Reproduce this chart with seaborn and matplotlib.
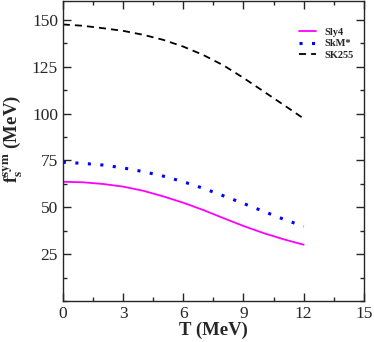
import numpy as np
import pandas as pd
import matplotlib
matplotlib.use("Agg")
import matplotlib.pyplot as plt
import seaborn as sns
from matplotlib.ticker import MultipleLocator

# values
T = [0, 1, 2, 3, 4, 5, 6, 7, 8, 9, 10, 11, 12]
sly4 = [63.6, 63.3, 62.4, 61.0, 58.8, 55.8, 52.4, 48.5, 44.2, 40.0, 36.2, 32.9, 30.0]
skm = [74.0, 73.4, 72.5, 71.0, 69.0, 66.6, 63.6, 60.1, 56.1, 52.0, 47.8, 43.6, 39.8]
sk255 = [147.5, 146.8, 145.5, 144.1, 142.0, 139.3, 135.7, 131.2, 125.7, 119.0, 111.8, 104.6, 97.3]

df = pd.DataFrame({
    "T": T * 3,
    "f": sly4 + skm + sk255,
    "model": ["Sly4"] * len(T) + ["SkM*"] * len(T) + ["SK255"] * len(T),
})

sns.set_style("ticks")
plt.rcParams["font.family"] = ["Liberation Serif", "DejaVu Serif"]
plt.rcParams["mathtext.fontset"] = "stix"

fig = plt.figure(figsize=(3.74, 3.42), dpi=100)
ax = fig.add_axes([0.168, 0.12, 0.805, 0.877])

palette = {"Sly4": "#ff00ff", "SkM*": "#0000ff", "SK255": "#000000"}
sns.lineplot(data=df, x="T", y="f", hue="model", palette=palette, ax=ax, legend=True)

widths = [1.3, 2.2, 1.3]
styles = ["-", (0, (1, 3.1)), (0, (3.9, 2.8))]
for ln, lw, ls in zip(ax.get_lines(), widths, styles):
    ln.set_linewidth(lw)
    ln.set_linestyle(ls)

ax.set_xlim(0, 15)
ax.set_ylim(0, 160)
ax.xaxis.set_major_locator(MultipleLocator(3))
ax.xaxis.set_minor_locator(MultipleLocator(1.5))
ax.set_yticks([25, 50, 75, 100, 125, 150])
ax.yaxis.set_minor_locator(MultipleLocator(12.5))
ax.tick_params(which="both", direction="in", top=True, right=True, labelsize=12.5, width=1)
ax.tick_params(which="major", length=6)
ax.tick_params(which="minor", length=3)
for s in ax.spines.values():
    s.set_linewidth(1)

ax.set_xlabel("T (MeV)", fontsize=13.5, fontweight="bold", labelpad=0)
ax.set_ylabel(r"$\mathbf{f_s^{sym}}$ (MeV)", fontsize=13.5, fontweight="bold")
ax.yaxis.set_label_coords(-0.125, 0.54)

leg = ax.legend(loc="upper right", frameon=False, prop={"size": 7.5, "weight": "bold"},
                handlelength=1.6, handletextpad=0.8, bbox_to_anchor=(0.98, 0.925),
                labelspacing=0.2, borderaxespad=0)
for h, lw, ls in zip(leg.get_lines(), widths, styles):
    h.set_linewidth(lw)
    h.set_linestyle(ls)

fig.savefig("out.png", dpi=100)
